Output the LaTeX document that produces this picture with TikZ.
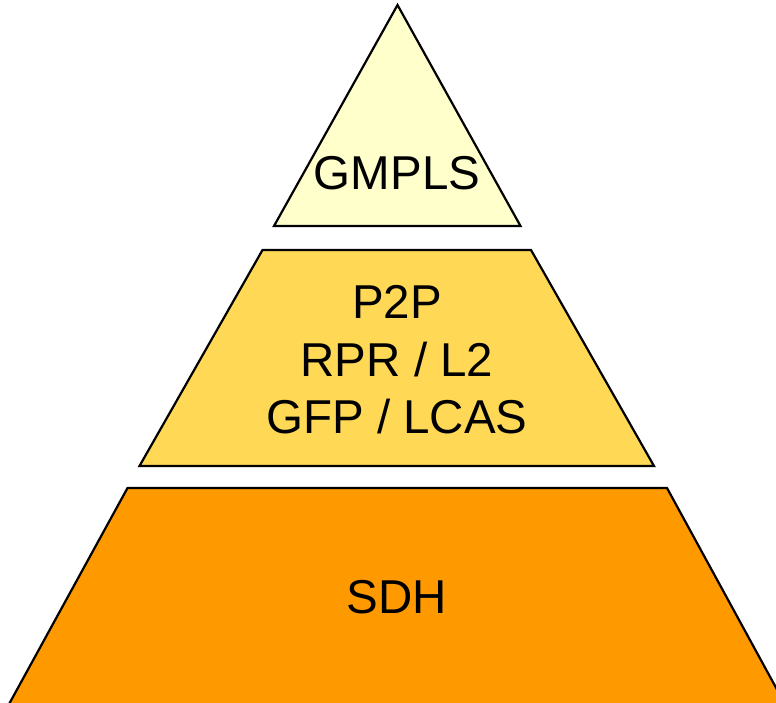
\documentclass[tikz,border=0pt]{standalone}
\usepackage{fontspec}
\setmainfont{Liberation Sans}
\definecolor{topfill}{HTML}{FFFFCC}
\definecolor{midfill}{HTML}{FFD955}
\definecolor{botfill}{HTML}{FF9900}
\begin{document}
\begin{tikzpicture}[x=1pt,y=-1pt,
  layer/.style={draw=black,line width=2.2pt,line join=miter},
  lbl/.style={font=\fontsize{47.5}{57}\selectfont, inner sep=0pt, anchor=base}]
\useasboundingbox (0,0) rectangle (776,703);
\clip (0,0) rectangle (776,703);
\draw[layer,fill=topfill] (397.5,5) -- (520.5,226) -- (274,226) -- cycle;
\draw[layer,fill=midfill] (262.5,250) -- (531,250) -- (654,466) -- (139.5,466) -- cycle;
\draw[layer,fill=botfill] (127.5,488) -- (667,488) -- (786,706) -- (8,706) -- cycle;
\node[lbl] (gmpls) at (397,189.5) {GMPLS};
\node[lbl] (p2p) at (397,318.5) {P2P};
\node[lbl] (rpr) at (397,376) {RPR / L2};
\node[lbl] (gfp) at (397,433.5) {GFP / LCAS};
\node[lbl] (sdh) at (397,613.5) {SDH};
\end{tikzpicture}
\end{document}
